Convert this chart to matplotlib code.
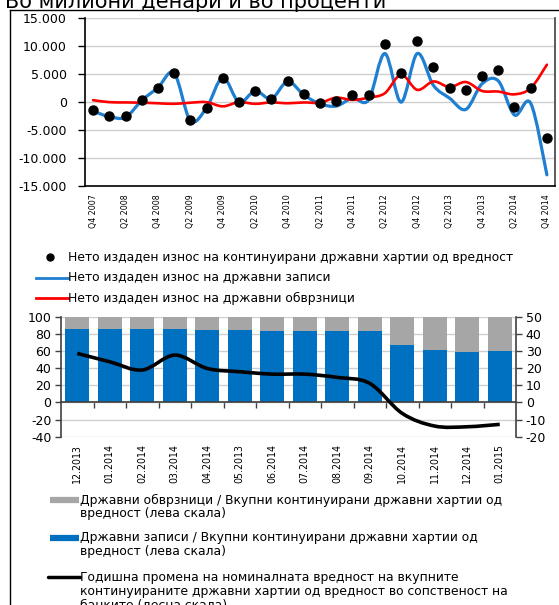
import matplotlib
matplotlib.use('Agg')
from matplotlib import pyplot as plt
from matplotlib import font_manager as fm
from matplotlib.lines import Line2D
from matplotlib.path import Path
from matplotlib.patches import PathPatch
from matplotlib.ticker import FuncFormatter, FixedLocator

plt.rcParams['font.family'] = ['DejaVu Sans']
plt.rcParams['axes.unicode_minus'] = False

# ---- top chart data (millions of denars) ----
quarters = ['Q4 2007', 'Q1 2008', 'Q2 2008', 'Q3 2008', 'Q4 2008', 'Q1 2009', 'Q2 2009',
            'Q3 2009', 'Q4 2009', 'Q1 2010', 'Q2 2010', 'Q3 2010', 'Q4 2010', 'Q1 2011',
            'Q2 2011', 'Q3 2011', 'Q4 2011', 'Q1 2012', 'Q2 2012', 'Q3 2012', 'Q4 2012',
            'Q1 2013', 'Q2 2013', 'Q3 2013', 'Q4 2013', 'Q1 2014', 'Q2 2014', 'Q3 2014',
            'Q4 2014']
net_total = [-1400, -2450, -2500, 350, 2600, 5250, -3150, -1000, 4300, 0, 1950, 650,
             3700, 1500, -200, 250, 1300, 1200, 10350, 5300, 10900, 6300, 2550, 2250,
             4750, 5750, -850, 2450, -6450]
net_bills = [-1600, -2600, -2700, 300, 2600, 5200, -3300, -1000, 4400, 0, 2000, 600,
             3700, 1300, -300, -700, 700, 400, 8700, 0, 8700, 3000, 700, -1300,
             3300, 3800, -2300, -200, -13000]
net_bonds = [350, 0, -50, -100, -200, -300, -100, 0, -750, 0, -300, -50,
             -200, -50, -100, 800, 400, 800, 1600, 4900, 2200, 3700, 2700, 3600,
             2000, 1900, 1400, 2500, 6700]

# ---- bottom chart data ----
months = ['12.2013', '01.2014', '02.2014', '03.2014', '04.2014', '05.2013', '06.2014',
          '07.2014', '08.2014', '09.2014', '10.2014', '11.2014', '12.2014', '01.2015']
share_bills = [85.6, 85.6, 85.6, 85.2, 84.8, 84.4, 83.7, 83.7, 83.3, 83.3, 67.3, 60.7, 59.1, 60.3]
share_bonds = [100 - v for v in share_bills]
yoy_change = [28.6, 23.7, 18.9, 27.6, 19.8, 17.9, 16.5, 16.5, 14.6, 11.1, -6.4, -13.8, -14.2, -12.8]

BLUE = '#0070C0'
LBLUE = '#1F7FD0'
RED = '#FF0000'
GRAY = '#A6A6A6'
GRID = '#CFCFCF'
DARK = '#404040'

W, H = 559, 605

# narrow font for the rotated category labels, if one is installed
fonts = fm.fontManager.ttflist
narrow_names = [f.name for f in fonts if 'Narrow' in f.name or 'Condensed' in f.name]
if 'Liberation Sans Narrow' in narrow_names:
    narrow = dict(family='Liberation Sans Narrow')
    q_size, m_size = 7.5, 9
elif any(f.name == 'DejaVu Sans' and f.stretch == 'condensed' for f in fonts):
    narrow = dict(family='DejaVu Sans', stretch='condensed')
    q_size, m_size = 6.3, 7.6
else:
    narrow = dict(family='DejaVu Sans')
    q_size, m_size = 6.0, 7.3


def fx(px):
    return px / W


def fy(py):
    return 1 - py / H


def smooth_path(xs, ys):
    verts = [(xs[0], ys[0])]
    codes = [Path.MOVETO]
    n = len(xs)
    for i in range(n - 1):
        i0, i3 = max(i - 1, 0), min(i + 2, n - 1)
        c1 = (xs[i] + (xs[i + 1] - xs[i0]) / 6, ys[i] + (ys[i + 1] - ys[i0]) / 6)
        c2 = (xs[i + 1] - (xs[i3] - xs[i]) / 6, ys[i + 1] - (ys[i3] - ys[i]) / 6)
        verts += [c1, c2, (xs[i + 1], ys[i + 1])]
        codes += [Path.CURVE4] * 3
    return Path(verts, codes)


fig = plt.figure(figsize=(W / 100, H / 100), dpi=100)

# ---------------- top chart ----------------
ax1 = fig.add_axes([fx(85), fy(186), fx(470), 167.7 / H])
xq = list(range(len(quarters)))
ax1.add_patch(PathPatch(smooth_path(xq, net_bills), fill=False, edgecolor=LBLUE, lw=2.3,
                        capstyle='round', joinstyle='round', zorder=3))
ax1.add_patch(PathPatch(smooth_path(xq, net_bonds), fill=False, edgecolor=RED, lw=1.9,
                        capstyle='round', joinstyle='round', zorder=4))
ax1.plot(xq, net_total, 'o', color='black', ms=6.5, zorder=5)
ax1.set_xlim(-0.5, len(quarters) - 0.5)
ax1.set_ylim(-15000, 15000)
ax1.set_yticks(range(-15000, 15001, 5000))
ax1.yaxis.set_major_formatter(FuncFormatter(lambda v, p: f'{int(v):,}'.replace(',', '.')))
ax1.set_xticks(xq[::2])
ax1.set_xticklabels(quarters[::2], rotation=90, fontsize=q_size, **narrow)
ax1.tick_params(axis='x', length=0, pad=6)
ax1.tick_params(axis='y', length=5, width=1, labelsize=9, pad=8, color='black')
ax1.grid(axis='y', color=GRID, lw=1)
ax1.set_axisbelow(True)
ax1.spines['top'].set_visible(False)
ax1.spines['right'].set_color(DARK)
ax1.spines['right'].set_linewidth(1.2)
ax1.spines['left'].set_linewidth(1.2)
ax1.spines['bottom'].set_linewidth(1.2)

# top legend
fig.add_artist(Line2D([fx(50)], [fy(257)], marker='o', color='black', ms=5, ls='none'))
fig.add_artist(Line2D([fx(36), fx(68)], [fy(278)] * 2, color=LBLUE, lw=2))
fig.add_artist(Line2D([fx(36), fx(68)], [fy(298)] * 2, color=RED, lw=2))
leg_top = ['Нето издаден износ на континуирани државни хартии од вредност',
           'Нето издаден износ на државни записи',
           'Нето издаден износ на државни обврзници']
for txt, yy in zip(leg_top, [257, 278, 298]):
    fig.text(fx(68), fy(yy), txt, fontsize=8.9, va='center', ha='left')

# ---------------- bottom chart ----------------
ax2 = fig.add_axes([fx(61), fy(436.7), fx(455), 120 / H])
xm = list(range(len(months)))
ax2.bar(xm, share_bills, width=0.74, color=BLUE, zorder=2)
ax2.bar(xm, share_bonds, width=0.74, bottom=share_bills, color=GRAY, zorder=2)
ax2.set_xlim(-0.5, len(months) - 0.5)
ax2.set_ylim(-40, 100)
ax2.set_yticks(range(-40, 101, 20))
ax2.grid(axis='y', color=GRID, lw=1, zorder=0)
ax2.set_axisbelow(True)
ax2.spines['top'].set_visible(False)
ax2.spines['right'].set_visible(False)
ax2.spines['bottom'].set_position(('data', 0))
ax2.spines['bottom'].set_color(DARK)
ax2.spines['bottom'].set_linewidth(1.2)
ax2.spines['bottom'].set_zorder(3)
ax2.spines['left'].set_color(DARK)
ax2.spines['left'].set_linewidth(1.2)
ax2.xaxis.set_major_locator(FixedLocator([i + 0.5 for i in xm[:-1]]))
ax2.xaxis.set_minor_locator(FixedLocator(xm))
ax2.xaxis.set_major_formatter(FuncFormatter(lambda v, p: ''))
ax2.set_xticklabels(months, minor=True, rotation=90, fontsize=m_size, **narrow)
ax2.tick_params(axis='x', which='major', length=4, width=1, color=DARK, direction='out')
ax2.tick_params(axis='x', which='minor', length=0, pad=30)
ax2.tick_params(axis='y', length=4, width=1, color=DARK, labelsize=9, pad=3)

ax3 = ax2.twinx()
ax3.add_patch(PathPatch(smooth_path(xm, yoy_change), fill=False, edgecolor='black', lw=2.6,
                        capstyle='butt', joinstyle='round', zorder=4))
ax3.set_ylim(-20, 50)
ax3.set_yticks(range(-20, 51, 10))
for s in ['top', 'bottom', 'left']:
    ax3.spines[s].set_visible(False)
ax3.spines['right'].set_color(DARK)
ax3.spines['right'].set_linewidth(1.2)
ax3.tick_params(axis='y', length=4, width=1, color=DARK, labelsize=9, pad=3)

# bottom legend
fig.add_artist(Line2D([fx(50), fx(79)], [fy(500)] * 2, color=GRAY, lw=4.5, solid_capstyle='butt'))
fig.add_artist(Line2D([fx(50), fx(79)], [fy(538)] * 2, color=BLUE, lw=4.5, solid_capstyle='butt'))
fig.add_artist(Line2D([fx(48), fx(80)], [fy(577)] * 2, color='black', lw=2.5,
                      solid_capstyle='round'))
leg_bot = [(['Државни обврзници / Вкупни континуирани државни хартии од',
             'вредност (лева скала)'], 500),
           (['Државни записи / Вкупни континуирани државни хартии од',
             'вредност (лева скала)'], 538),
           (['Годишна промена на номиналната вредност на вкупните',
             'континуираните државни хартии од вредност во сопственост на',
             'банките (десна скала)'], 577)]
for lines, y0 in leg_bot:
    for k, txt in enumerate(lines):
        fig.text(fx(80), fy(y0 + 14 * k), txt, fontsize=8.9, va='center', ha='left')

# title (cut by top edge) and frame
fig.text(fx(5), fy(7.5), 'Во милиони денари и во проценти', fontsize=15, va='baseline', ha='left')
fig.add_artist(Line2D([fx(10), 1], [fy(10)] * 2, color='black', lw=1))
fig.add_artist(Line2D([fx(10)] * 2, [0, fy(10)], color='black', lw=1))

fig.savefig('out.png', dpi=100)
plt.close(fig)
